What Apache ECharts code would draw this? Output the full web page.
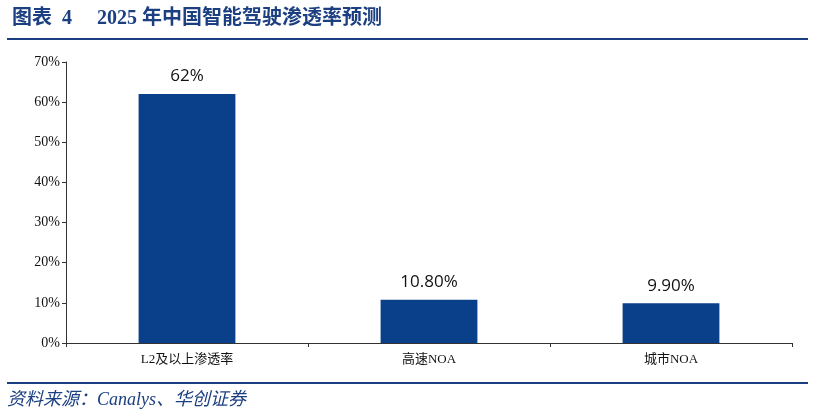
<!DOCTYPE html>
<html><head><meta charset="utf-8">
<script src="https://cdn.jsdelivr.net/npm/echarts@6/dist/echarts.min.js"></script>
<style>html,body{margin:0;padding:0;background:#fff}#c{width:814px;height:417px}</style>
</head><body><div id="c"></div>
<script>
const categories = ['L2及以上渗透率', '高速NOA', '城市NOA'];
const values = [62, 10.8, 9.9];
const valueLabels = ['62%', '10.80%', '9.90%'];
const chart = echarts.init(document.getElementById('c'));
const blue = '#1b3f80';
chart.setOption({
  animation: false,
  grid: {left: 66, right: 22, top: 62, bottom: 74},
  title: {
    text: '图表  4     2025 年中国智能驾驶渗透率预测',
    left: 7, top: 4,
    textStyle: {fontFamily: 'Liberation Serif, Noto Sans CJK SC', fontWeight: 'bold', fontSize: 20, color: blue}
  },
  graphic: [
    {type: 'rect', shape: {x: 7, y: 38, width: 801, height: 2}, style: {fill: blue}},
    {type: 'rect', shape: {x: 7, y: 382, width: 801, height: 2}, style: {fill: blue}},
    {type: 'text', left: 7, top: 391, style: {text: '资料来源：Canalys、华创证券', fontFamily: 'Liberation Serif, Noto Sans CJK SC', fontStyle: 'italic', fontSize: 18, fill: blue}}
  ],
  xAxis: {
    type: 'category', data: categories,
    axisLine: {lineStyle: {color: '#333', width: 1}},
    axisTick: {show: true, length: 4, lineStyle: {color: '#333'}},
    axisLabel: {fontFamily: 'Liberation Serif, Noto Sans CJK SC', fontSize: 13, color: '#111', margin: 10}
  },
  yAxis: {
    type: 'value', min: 0, max: 70, interval: 10,
    splitLine: {show: false},
    axisLine: {show: true, lineStyle: {color: '#333', width: 1}},
    axisTick: {show: true, length: 4, lineStyle: {color: '#333'}},
    axisLabel: {formatter: '{value}%', fontFamily: 'Liberation Serif', fontSize: 14, color: '#111', margin: 6}
  },
  series: [{
    type: 'bar', data: values, barWidth: '40%',
    itemStyle: {color: '#0a3f8a'},
    label: {show: true, position: 'top', distance: 9,
      formatter: p => valueLabels[p.dataIndex],
      fontFamily: 'Open Sans, Noto Sans', fontSize: 17, color: '#111'}
  }]
});
</script></body></html>
